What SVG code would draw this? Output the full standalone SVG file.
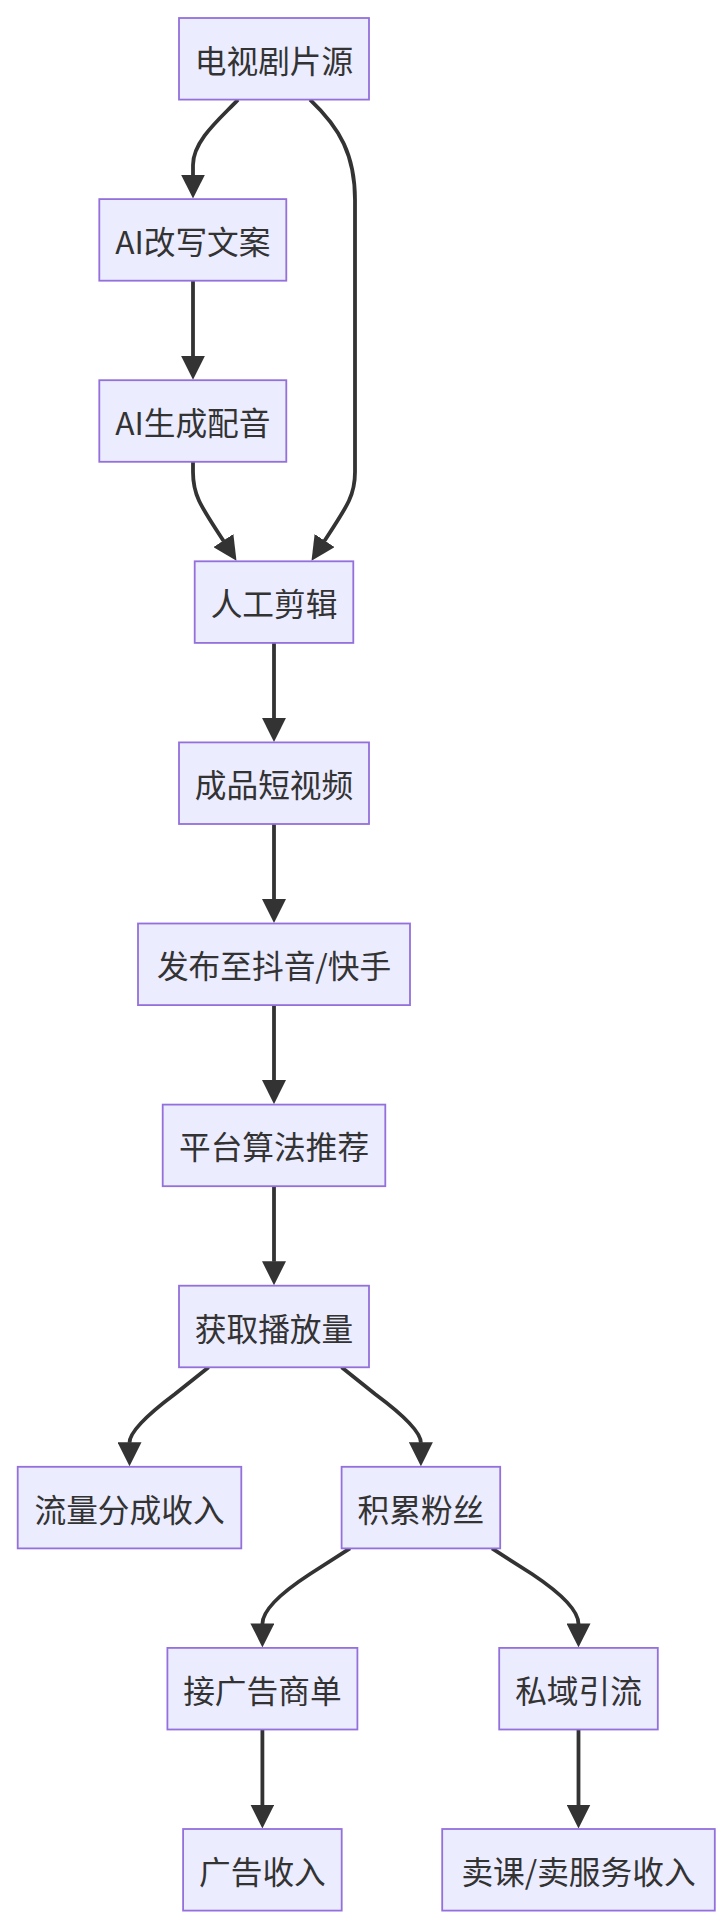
<svg xmlns="http://www.w3.org/2000/svg" width="728" height="1928" viewBox="0 0 728 1928">
<style>
.node rect{fill:#ECECFF;stroke:#9370DB;stroke-width:1.8}
.node text{font-family:"Noto Sans CJK SC","Liberation Sans",sans-serif;font-size:31.7px;fill:#333;text-anchor:middle;dominant-baseline:central}
.edges path{fill:none;stroke:#333;stroke-width:3.8;marker-end:url(#arrow)}
</style>
<defs>
<marker id="arrow" markerUnits="userSpaceOnUse" markerWidth="24" markerHeight="24" viewBox="0 0 24 24" refX="0.5" refY="12" orient="auto">
<path d="M0,0 L24,12 L0,24 z" fill="#333"/>
</marker>
</defs>
<rect width="728" height="1928" fill="#ffffff"/>
<g class="edges">
<path d="M238,99.6 C222,117 193,140 193,165 L193,175.1"/>
<path d="M310,99.6 C340,128 355,155 355,200 L355,472 C355,495 348,505 324.4,541"/>
<path d="M193,280.7 L193,356.2"/>
<path d="M193,461.8 L193,472 C193,495 200,505 223.6,541"/>
<path d="M274,642.9 L274,718.4"/>
<path d="M274,824 L274,899.5"/>
<path d="M274,1005.1 L274,1080.6"/>
<path d="M274,1186.2 L274,1261.7"/>
<path d="M208.6,1367.3 L175,1394 Q129.5,1428 129.5,1442.8"/>
<path d="M341.6,1367.3 L375,1394 Q420.9,1428 420.9,1442.8"/>
<path d="M350,1548.4 L310,1574 Q262.4,1605 262.4,1623.9"/>
<path d="M492,1548.4 L532,1574 Q578.5,1605 578.5,1623.9"/>
<path d="M262.4,1729.5 L262.4,1805"/>
<path d="M578.5,1729.5 L578.5,1805"/>
</g>
<g id="n1" class="node"><rect x="179" y="18" width="190" height="81.6"/><text x="274" y="58.8">电视剧片源</text></g>
<g id="n2" class="node"><rect x="99.3" y="199.1" width="187" height="81.6"/><text x="192.8" y="239.9">AI改写文案</text></g>
<g id="n3" class="node"><rect x="99.3" y="380.2" width="187" height="81.6"/><text x="192.8" y="421">AI生成配音</text></g>
<g id="n4" class="node"><rect x="194.7" y="561.3" width="158.6" height="81.6"/><text x="274" y="602.1">人工剪辑</text></g>
<g id="n5" class="node"><rect x="179" y="742.4" width="190" height="81.6"/><text x="274" y="783.2">成品短视频</text></g>
<g id="n6" class="node"><rect x="138" y="923.5" width="272" height="81.6"/><text x="274" y="964.3">发布至抖音/快手</text></g>
<g id="n7" class="node"><rect x="162.7" y="1104.6" width="222.6" height="81.6"/><text x="274" y="1145.4">平台算法推荐</text></g>
<g id="n8" class="node"><rect x="179" y="1285.7" width="190" height="81.6"/><text x="274" y="1326.5">获取播放量</text></g>
<g id="n9" class="node"><rect x="17.7" y="1466.8" width="223.6" height="81.6"/><text x="129.5" y="1507.6">流量分成收入</text></g>
<g id="n10" class="node"><rect x="341.6" y="1466.8" width="158.6" height="81.6"/><text x="420.9" y="1507.6">积累粉丝</text></g>
<g id="n11" class="node"><rect x="167.4" y="1647.9" width="190" height="81.6"/><text x="262.4" y="1688.7">接广告商单</text></g>
<g id="n12" class="node"><rect x="499.2" y="1647.9" width="158.6" height="81.6"/><text x="578.5" y="1688.7">私域引流</text></g>
<g id="n13" class="node"><rect x="183.1" y="1829" width="158.6" height="81.6"/><text x="262.4" y="1869.8">广告收入</text></g>
<g id="n14" class="node"><rect x="442.2" y="1829" width="272.6" height="81.6"/><text x="578.5" y="1869.8">卖课/卖服务收入</text></g>
</svg>
